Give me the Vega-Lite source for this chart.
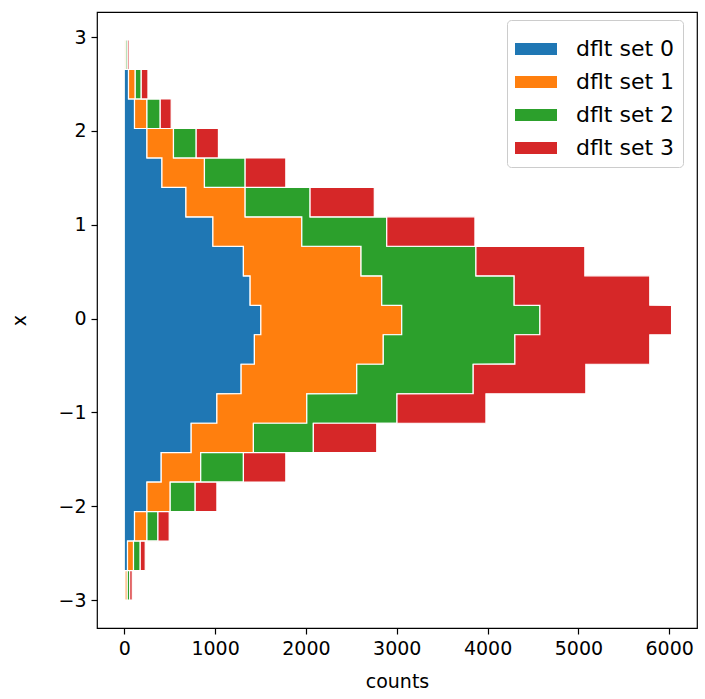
{
  "$schema": "https://vega.github.io/schema/vega-lite/v6.json",
  "width": 600,
  "height": 616,
  "autosize": {"type": "none"},
  "padding": {"left": 97, "top": 12, "right": 8, "bottom": 71},
  "background": "white",
  "config": {
    "font": "DejaVu Sans",
    "view": {"stroke": "black", "strokeWidth": 1.2},
    "axis": {
      "grid": false, "domain": false, "tickColor": "black", "tickSize": 6, "tickWidth": 1.2,
      "labelColor": "black", "labelFontSize": 19, "titleFontSize": 19, "titleColor": "black",
      "titleFontWeight": "normal", "labelFont": "DejaVu Sans", "titleFont": "DejaVu Sans", "labelPadding": 5
    }
  },
  "data": {"values": [
    {"s":"dflt set 0","b":0,"lo":-3.000,"hi":-2.6865,"n":9},
    {"s":"dflt set 1","b":0,"lo":-3.000,"hi":-2.6865,"n":24},
    {"s":"dflt set 2","b":0,"lo":-3.000,"hi":-2.6865,"n":27},
    {"s":"dflt set 3","b":0,"lo":-3.000,"hi":-2.6865,"n":28},
    {"s":"dflt set 0","b":1,"lo":-2.686,"hi":-2.3725,"n":36},
    {"s":"dflt set 1","b":1,"lo":-2.686,"hi":-2.3725,"n":66},
    {"s":"dflt set 2","b":1,"lo":-2.686,"hi":-2.3725,"n":74},
    {"s":"dflt set 3","b":1,"lo":-2.686,"hi":-2.3725,"n":55},
    {"s":"dflt set 0","b":2,"lo":-2.372,"hi":-2.0575,"n":113},
    {"s":"dflt set 1","b":2,"lo":-2.372,"hi":-2.0575,"n":137},
    {"s":"dflt set 2","b":2,"lo":-2.372,"hi":-2.0575,"n":121},
    {"s":"dflt set 3","b":2,"lo":-2.372,"hi":-2.0575,"n":124},
    {"s":"dflt set 0","b":3,"lo":-2.057,"hi":-1.7435,"n":250},
    {"s":"dflt set 1","b":3,"lo":-2.057,"hi":-1.7435,"n":256},
    {"s":"dflt set 2","b":3,"lo":-2.057,"hi":-1.7435,"n":275},
    {"s":"dflt set 3","b":3,"lo":-2.057,"hi":-1.7435,"n":239},
    {"s":"dflt set 0","b":4,"lo":-1.743,"hi":-1.4295,"n":407},
    {"s":"dflt set 1","b":4,"lo":-1.743,"hi":-1.4295,"n":435},
    {"s":"dflt set 2","b":4,"lo":-1.743,"hi":-1.4295,"n":470},
    {"s":"dflt set 3","b":4,"lo":-1.743,"hi":-1.4295,"n":467},
    {"s":"dflt set 0","b":5,"lo":-1.429,"hi":-1.1155,"n":737},
    {"s":"dflt set 1","b":5,"lo":-1.429,"hi":-1.1155,"n":685},
    {"s":"dflt set 2","b":5,"lo":-1.429,"hi":-1.1155,"n":660},
    {"s":"dflt set 3","b":5,"lo":-1.429,"hi":-1.1155,"n":698},
    {"s":"dflt set 0","b":6,"lo":-1.115,"hi":-0.8015,"n":1020},
    {"s":"dflt set 1","b":6,"lo":-1.115,"hi":-0.8015,"n":990},
    {"s":"dflt set 2","b":6,"lo":-1.115,"hi":-0.8015,"n":993},
    {"s":"dflt set 3","b":6,"lo":-1.115,"hi":-0.8015,"n":979},
    {"s":"dflt set 0","b":7,"lo":-0.801,"hi":-0.4865,"n":1287},
    {"s":"dflt set 1","b":7,"lo":-0.801,"hi":-0.4865,"n":1273},
    {"s":"dflt set 2","b":7,"lo":-0.801,"hi":-0.4865,"n":1282},
    {"s":"dflt set 3","b":7,"lo":-0.801,"hi":-0.4865,"n":1240},
    {"s":"dflt set 0","b":8,"lo":-0.486,"hi":-0.1725,"n":1433},
    {"s":"dflt set 1","b":8,"lo":-0.486,"hi":-0.1725,"n":1419},
    {"s":"dflt set 2","b":8,"lo":-0.486,"hi":-0.1725,"n":1449},
    {"s":"dflt set 3","b":8,"lo":-0.486,"hi":-0.1725,"n":1485},
    {"s":"dflt set 0","b":9,"lo":-0.172,"hi":0.1415,"n":1504},
    {"s":"dflt set 1","b":9,"lo":-0.172,"hi":0.1415,"n":1551},
    {"s":"dflt set 2","b":9,"lo":-0.172,"hi":0.1415,"n":1521},
    {"s":"dflt set 3","b":9,"lo":-0.172,"hi":0.1415,"n":1450},
    {"s":"dflt set 0","b":10,"lo":0.142,"hi":0.4555,"n":1386},
    {"s":"dflt set 1","b":10,"lo":0.142,"hi":0.4555,"n":1449},
    {"s":"dflt set 2","b":10,"lo":0.142,"hi":0.4555,"n":1458},
    {"s":"dflt set 3","b":10,"lo":0.142,"hi":0.4555,"n":1493},
    {"s":"dflt set 0","b":11,"lo":0.456,"hi":0.7705,"n":1312},
    {"s":"dflt set 1","b":11,"lo":0.456,"hi":0.7705,"n":1295},
    {"s":"dflt set 2","b":11,"lo":0.456,"hi":0.7705,"n":1265},
    {"s":"dflt set 3","b":11,"lo":0.456,"hi":0.7705,"n":1199},
    {"s":"dflt set 0","b":12,"lo":0.771,"hi":1.0845,"n":976},
    {"s":"dflt set 1","b":12,"lo":0.771,"hi":1.0845,"n":979},
    {"s":"dflt set 2","b":12,"lo":0.771,"hi":1.0845,"n":935},
    {"s":"dflt set 3","b":12,"lo":0.771,"hi":1.0845,"n":971},
    {"s":"dflt set 0","b":13,"lo":1.085,"hi":1.3985,"n":679},
    {"s":"dflt set 1","b":13,"lo":1.085,"hi":1.3985,"n":652},
    {"s":"dflt set 2","b":13,"lo":1.085,"hi":1.3985,"n":715},
    {"s":"dflt set 3","b":13,"lo":1.085,"hi":1.3985,"n":707},
    {"s":"dflt set 0","b":14,"lo":1.399,"hi":1.7125,"n":415},
    {"s":"dflt set 1","b":14,"lo":1.399,"hi":1.7125,"n":468},
    {"s":"dflt set 2","b":14,"lo":1.399,"hi":1.7125,"n":448},
    {"s":"dflt set 3","b":14,"lo":1.399,"hi":1.7125,"n":448},
    {"s":"dflt set 0","b":15,"lo":1.713,"hi":2.0265,"n":250},
    {"s":"dflt set 1","b":15,"lo":1.713,"hi":2.0265,"n":292},
    {"s":"dflt set 2","b":15,"lo":1.713,"hi":2.0265,"n":250},
    {"s":"dflt set 3","b":15,"lo":1.713,"hi":2.0265,"n":245},
    {"s":"dflt set 0","b":16,"lo":2.027,"hi":2.3415,"n":113},
    {"s":"dflt set 1","b":16,"lo":2.027,"hi":2.3415,"n":137},
    {"s":"dflt set 2","b":16,"lo":2.027,"hi":2.3415,"n":146},
    {"s":"dflt set 3","b":16,"lo":2.027,"hi":2.3415,"n":121},
    {"s":"dflt set 0","b":17,"lo":2.342,"hi":2.6555,"n":47},
    {"s":"dflt set 1","b":17,"lo":2.342,"hi":2.6555,"n":74},
    {"s":"dflt set 2","b":17,"lo":2.342,"hi":2.6555,"n":66},
    {"s":"dflt set 3","b":17,"lo":2.342,"hi":2.6555,"n":74},
    {"s":"dflt set 0","b":18,"lo":2.656,"hi":2.970,"n":5},
    {"s":"dflt set 1","b":18,"lo":2.656,"hi":2.970,"n":15},
    {"s":"dflt set 2","b":18,"lo":2.656,"hi":2.970,"n":20},
    {"s":"dflt set 3","b":18,"lo":2.656,"hi":2.970,"n":18}
  ]},
  "transform": [
    {"fold": ["lo", "hi"], "as": ["edge", "y"]},
    {"stack": "n", "groupby": ["b", "edge"], "sort": [{"field": "s", "order": "ascending"}], "as": ["c0", "c1"]}
  ],
  "mark": {"type": "area", "orient": "horizontal", "stroke": "white", "strokeWidth": 1.2, "opacity": 1, "fillOpacity": 1},
  "encoding": {
    "y": {
      "field": "y", "type": "quantitative",
      "scale": {"domain": [-3.2985, 3.2685], "nice": false, "zero": false},
      "axis": {"values": [-3, -2, -1, 0, 1, 2, 3], "title": "x", "titlePadding": 28, "labelExpr": "replace(datum.label, '-', '\u2212')"}
    },
    "x": {
      "field": "c1", "type": "quantitative", "stack": null,
      "scale": {"domain": [-300, 6306], "nice": false, "zero": false},
      "axis": {"values": [0, 1000, 2000, 3000, 4000, 5000, 6000], "format": "d", "title": "counts", "titlePadding": 14}
    },
    "x2": {"field": "c0"},
    "color": {
      "field": "s", "type": "nominal",
      "scale": {"domain": ["dflt set 0", "dflt set 1", "dflt set 2", "dflt set 3"], "range": ["#1f77b4", "#ff7f0e", "#2ca02c", "#d62728"]},
      "legend": {
        "orient": "none", "legendX": 410, "legendY": 8, "title": null,
        "symbolType": "M-1,-0.29L1,-0.29L1,0.29L-1,0.29Z", "symbolSize": 1764,
        "symbolStrokeWidth": 0, "labelFontSize": 22, "labelColor": "black", "labelOffset": 19,
        "padding": 8, "rowPadding": 1, "strokeColor": "#cccccc", "fillColor": "white", "cornerRadius": 4
      }
    },
    "order": [{"field": "y", "type": "quantitative"}, {"field": "b", "type": "quantitative"}]
  }
}
